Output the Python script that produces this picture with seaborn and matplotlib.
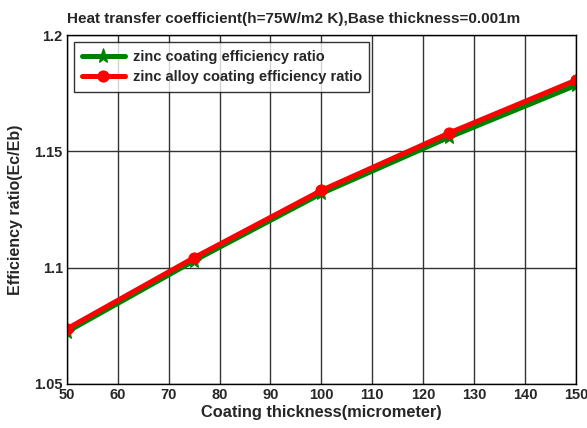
import pandas as pd
import matplotlib
matplotlib.use("Agg")
import matplotlib.pyplot as plt
import seaborn as sns

sns.set_style("white")
plt.rcParams['font.family'] = ['Liberation Sans', 'DejaVu Sans']
plt.rcParams['font.weight'] = 'bold'

thickness = [50, 75, 100, 125, 150]
zinc = [1.0724, 1.1030, 1.1319, 1.1560, 1.1784]
zinc_alloy = [1.0737, 1.1043, 1.1332, 1.1578, 1.1806]

df = pd.DataFrame({"thickness": thickness, "zinc": zinc, "alloy": zinc_alloy})

fig = plt.figure(figsize=(5.87, 4.28), dpi=100)
ax = fig.add_axes([0.114, 0.103, 0.867, 0.815])

sns.lineplot(data=df, x="thickness", y="zinc", ax=ax, color="#008000", lw=3.6,
             marker="*", markersize=11, markeredgecolor="#008000",
             label="zinc coating efficiency ratio")
sns.lineplot(data=df, x="thickness", y="alloy", ax=ax, color="#ff0000", lw=3.6,
             marker="o", markersize=8, markeredgecolor="#ff0000",
             label="zinc alloy coating efficiency ratio")

ax.set_xlim(50, 150)
ax.set_ylim(1.05, 1.2)
ax.set_xticks(range(50, 151, 10))
ax.set_yticks([1.05, 1.1, 1.15, 1.2])
ax.set_yticklabels(["1.05", "1.1", "1.15", "1.2"])
ax.grid(True, color="#333333", lw=1, ls="-")
for s in ax.spines.values():
    s.set_color("black")
    s.set_linewidth(1)
ax.tick_params(labelsize=10.5, length=0, pad=3)
for lbl in ax.get_xticklabels() + ax.get_yticklabels():
    lbl.set_fontweight("bold")

ax.set_xlabel("Coating thickness(micrometer)", fontsize=11.8, fontweight="bold", labelpad=2)
ax.set_ylabel("Efficiency ratio(Ec/Eb)", fontsize=11.5, fontweight="bold", labelpad=8)
fig.text(0.5, 0.955, "Heat transfer coefficient(h=75W/m2 K),Base thickness=0.001m",
         ha="center", va="center", fontsize=11, fontweight="bold")

leg = ax.legend(loc="upper left", fontsize=10.5, frameon=True, fancybox=False,
                edgecolor="black", handlelength=3.0, handletextpad=0.5,
                borderpad=0.5, labelspacing=0.45, borderaxespad=0.5)
leg.get_frame().set_linewidth(1)
for t in leg.get_texts():
    t.set_fontweight("bold")

fig.savefig("out.png", dpi=100)
